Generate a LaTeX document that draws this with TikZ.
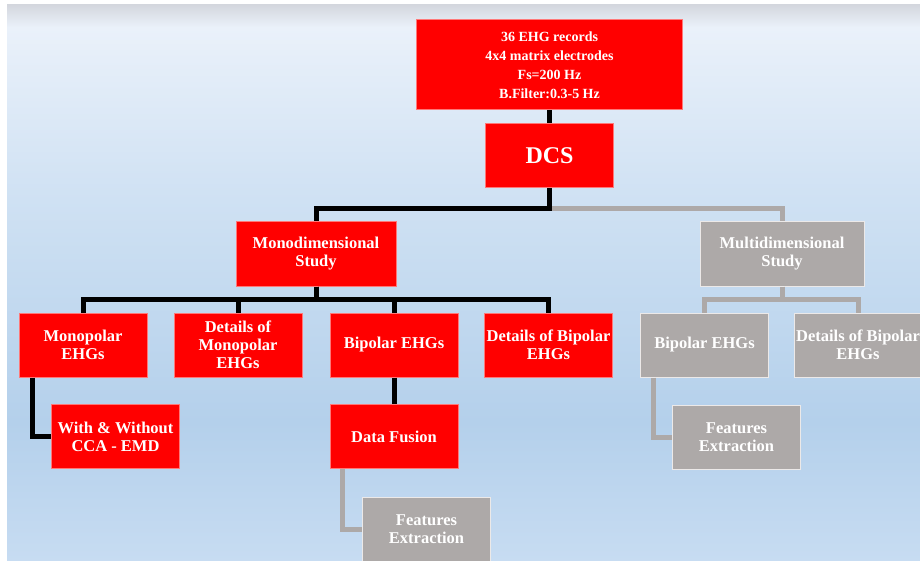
\documentclass[tikz,border=0pt]{standalone}
\usepackage{fontspec}
\setmainfont{Liberation Serif}
\usetikzlibrary{calc}
\definecolor{boxred}{RGB}{255, 0, 0}
\definecolor{boxredlight}{RGB}{255, 120, 120}
\definecolor{boxgray}{RGB}{173, 169, 168}
\definecolor{boxgraylight}{RGB}{236, 233, 232}
\definecolor{linegray}{RGB}{173, 169, 168}
\definecolor{bgshadow}{RGB}{212, 215, 222}
\definecolor{bgtop}{RGB}{234, 241, 250}
\definecolor{bgupper}{RGB}{207, 225, 243}
\definecolor{bgmid}{RGB}{180, 208, 235}
\definecolor{bgbottom}{RGB}{199, 220, 242}
\pgfdeclareverticalshading{bgshade}{100bp}{color(0bp)=(bgbottom); color(25bp)=(bgbottom); color(37.5bp)=(bgmid); color(57.5bp)=(bgupper); color(73bp)=(bgtop); color(75bp)=(bgshadow); color(100bp)=(bgshadow)}
\tikzset{
    box/.style={
        rectangle, minimum width=128pt, minimum height=64pt, inner sep=1pt,
        line width=1pt, text=white, align=center,
        font=\bfseries\fontsize{16.5}{18}\selectfont
    },
    redbox/.style={box, fill=boxred, draw=boxredlight},
    graybox/.style={box, fill=boxgray, draw=boxgraylight},
    link/.style={line width=5pt, draw=black},
    glink/.style={line width=5pt, draw=linegray},
}
\begin{document}
\begin{tikzpicture}[x=1pt, y=-1pt]
    \clip (0,0) rectangle (920,561);
    \fill[white] (0,0) rectangle (920,561);
    \shade[shading=bgshade] (7,5) rectangle (920,561);

    \node[redbox, minimum width=266pt, minimum height=90pt, font=\bfseries\fontsize{14}{19}\selectfont] (records) at (549.5,65) {36 EHG records\\4x4 matrix electrodes\\Fs=200 Hz\\B.Filter:0.3-5 Hz};
    \node[redbox, font=\bfseries\fontsize{24}{28}\selectfont] (dcs) at (549.5,156) {DCS};

    \node[redbox, minimum width=160pt] (mono) at (316,254) {Monodimensional\\Study};
    \node[graybox, minimum width=164pt] (multi) at (782,254) {Multidimensional\\Study};

    \node[redbox] (monopolar) at (83,345) {Monopolar\\EHGs};
    \node[redbox] (detmono) at (238,345) {Details of\\Monopolar\\EHGs};
    \node[redbox] (bipolar) at (394,345) {Bipolar EHGs};
    \node[redbox] (detbip) at (548.5,345) {Details of Bipolar\\EHGs};
    \node[graybox] (gbipolar) at (704.5,345) {Bipolar EHGs};
    \node[graybox] (gdetbip) at (858,345) {Details of Bipolar\\EHGs};

    \node[redbox] (cca) at (115.5,436.5) {With \& Without\\CCA - EMD};
    \node[redbox] (fusion) at (394,436.5) {Data Fusion};
    \node[graybox] (features) at (426.5,529) {Features\\Extraction};
    \node[graybox] (gfeatures) at (736.5,437) {Features\\Extraction};

    \draw[glink] (dcs.south) -- ++(0,20) -| (multi.north);
    \draw[link] (records.south) -- (dcs.north);
    \draw[link] (dcs.south) -- ++(0,20) -| (mono.north);
    \draw[link] (mono.south) -- ++(0,13) -| (monopolar.north);
    \draw[link] (mono.south) -- ++(0,13) -| (detmono.north);
    \draw[link] (mono.south) -- ++(0,13) -| (bipolar.north);
    \draw[link] (mono.south) -- ++(0,13) -| (detbip.north);
    \draw[glink] (multi.south) -- ++(0,13) -| (gbipolar.north);
    \draw[glink] (multi.south) -- ++(0,13) -| (gdetbip.north);
    \draw[link] ($(monopolar.south west)+(14,0)$) |- (cca.west);
    \draw[link] (bipolar.south) -- (fusion.north);
    \draw[glink] ($(fusion.south west)+(13,0)$) |- (features.west);
    \draw[glink] ($(gbipolar.south west)+(13,0)$) |- (gfeatures.west);
\end{tikzpicture}
\end{document}
